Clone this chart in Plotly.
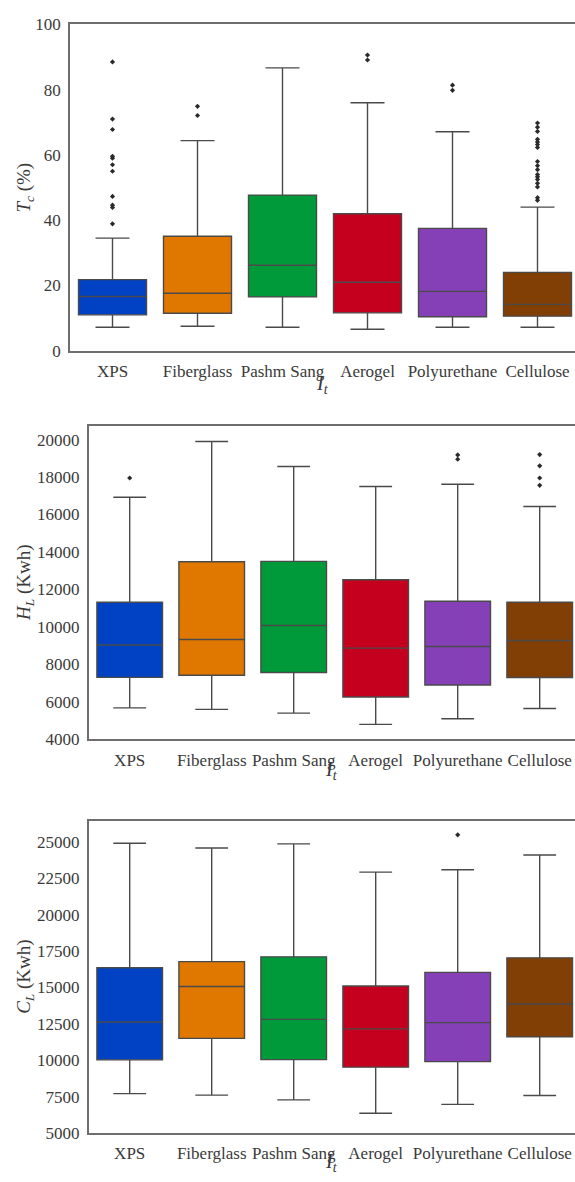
import plotly.graph_objects as go

categories = ["XPS", "Fiberglass", "Pashm Sang", "Aerogel", "Polyurethane", "Cellulose"]
colors = ["#0042C3", "#E07800", "#009A3A", "#C4001E", "#8540B8", "#823F05"]

# Panel 1: T_c (%)
tc_lower = [7.2, 7.5, 7.2, 6.6, 7.2, 7.2]
tc_q1 = [11.0, 11.5, 16.5, 11.6, 10.4, 10.6]
tc_median = [16.6, 17.6, 26.2, 21.0, 18.2, 14.2]
tc_q3 = [21.8, 35.1, 47.7, 42.0, 37.5, 24.0]
tc_upper = [34.5, 64.4, 86.7, 76.0, 67.1, 44.0]
tc_outliers = [
    [88.5, 71.0, 67.8, 59.6, 59.0, 57.0, 55.0, 47.3, 44.6, 43.9, 38.9],
    [74.9, 72.1],
    [],
    [90.6, 89.1],
    [81.4, 79.8],
    [69.8, 68.5, 67.2, 64.8, 64.0, 63.2, 62.3, 58.0, 56.7, 55.5, 54.0, 53.3,
     52.5, 51.3, 50.2, 46.9, 46.1],
]

# Panel 2: H_L (Kwh)
hl_lower = [5680, 5600, 5400, 4800, 5100, 5650]
hl_q1 = [7310, 7420, 7570, 6260, 6900, 7300]
hl_median = [9040, 9330, 10080, 8870, 8960, 9280]
hl_q3 = [11320, 13480, 13500, 12520, 11370, 11320]
hl_upper = [16920, 19900, 18560, 17500, 17620, 16430]
hl_outliers = [
    [17950],
    [],
    [],
    [],
    [19180, 18950],
    [19200, 18600, 17950, 17560],
]

# Panel 3: C_L (Kwh)
cl_lower = [7700, 7600, 7270, 6350, 6960, 7570]
cl_q1 = [10020, 11500, 10040, 9520, 9900, 11600]
cl_median = [12620, 15060, 12800, 12150, 12580, 13860]
cl_q3 = [16350, 16770, 17100, 15100, 16030, 17030]
cl_upper = [24900, 24580, 24860, 22920, 23080, 24100]
cl_outliers = [[], [], [], [], [25480], []]

W, H = 575, 1182
FONT = "Liberation Serif, Times New Roman, serif"
TICK_COLOR = "#3a3a3a"
LINE_COLOR = "#6e6e6e"

panels = [
    dict(lower=tc_lower, q1=tc_q1, med=tc_median, q3=tc_q3, upper=tc_upper, out=tc_outliers,
         left=70.0, top=15.7, bottom=347.3, yrange=[0, 100], dtick=20, xwidth=85.0,
         ytitle="<i>T<sub>c</sub></i> (%)", ytx=25, xty=382),
    dict(lower=hl_lower, q1=hl_q1, med=hl_median, q3=hl_q3, upper=hl_upper, out=hl_outliers,
         left=88.7, top=424.3, bottom=742.3, yrange=[4000, 20700], dtick=2000, xwidth=82.0,
         ytitle="<i>H<sub>L</sub></i> (Kwh)", ytx=25, xty=774),
    dict(lower=cl_lower, q1=cl_q1, med=cl_median, q3=cl_q3, upper=cl_upper, out=cl_outliers,
         left=88.7, top=825.0, bottom=1142.3, yrange=[5000, 26450], dtick=2500, xwidth=82.0,
         ytitle="<i>C<sub>L</sub></i> (Kwh)", ytx=25, xty=1172),
]

fig = go.Figure()
layout = dict(
    width=W, height=H, margin=dict(l=0, r=0, t=0, b=0),
    paper_bgcolor="white", plot_bgcolor="white", showlegend=False,
    boxmode="overlay", font=dict(family=FONT, size=17, color=TICK_COLOR),
    annotations=[],
)

for p_i, p in enumerate(panels):
    sfx = "" if p_i == 0 else str(p_i + 1)
    xa, ya = "x" + sfx, "y" + sfx
    for c_i, cat in enumerate(categories):
        fig.add_trace(go.Box(
            x=[cat], q1=[p["q1"][c_i]], median=[p["med"][c_i]], q3=[p["q3"][c_i]],
            lowerfence=[p["lower"][c_i]], upperfence=[p["upper"][c_i]],
            width=0.8, whiskerwidth=0.5, fillcolor=colors[c_i],
            line=dict(color="#4a4a4a", width=1.4), boxpoints=False,
            xaxis=xa, yaxis=ya, hoverinfo="skip",
        ))
        if p["out"][c_i]:
            fig.add_trace(go.Scatter(
                x=[cat] * len(p["out"][c_i]), y=p["out"][c_i], mode="markers",
                marker=dict(symbol="diamond", size=4, color="#2a2a2a"),
                xaxis=xa, yaxis=ya, hoverinfo="skip",
            ))
    plot_w = W - p["left"]
    xr_max = -0.5 + plot_w / p["xwidth"]
    xdom = [p["left"] / W, 1.0]
    ydom = [1 - p["bottom"] / H, 1 - p["top"] / H]
    layout["xaxis" + sfx] = dict(
        domain=xdom, anchor=ya, type="category", categoryorder="array",
        categoryarray=categories, range=[-0.5, xr_max],
        showline=True, linecolor=LINE_COLOR, linewidth=1.5, mirror=True,
        showgrid=False, zeroline=False, ticks="", ticklabelstandoff=4,
        tickfont=dict(family=FONT, size=17, color=TICK_COLOR),
    )
    layout["yaxis" + sfx] = dict(
        domain=ydom, anchor=xa, range=p["yrange"], dtick=p["dtick"], tick0=0,
        tickformat="d", showline=True, linecolor=LINE_COLOR, linewidth=1.5,
        mirror=False, showgrid=False, zeroline=False, ticks="", ticklabelstandoff=4,
        tickfont=dict(family=FONT, size=17, color=TICK_COLOR),
    )
    layout["annotations"].append(dict(
        text=p["ytitle"], x=p["ytx"] / W, y=1 - ((p["top"] + p["bottom"]) / 2) / H,
        xref="paper", yref="paper", showarrow=False, textangle=-90,
        xanchor="center", yanchor="middle",
        font=dict(family=FONT, size=19, color=TICK_COLOR),
    ))
    layout["annotations"].append(dict(
        text="<i>I<sub>t</sub></i>", x=((p["left"] + W) / 2) / W, y=1 - p["xty"] / H,
        xref="paper", yref="paper", showarrow=False,
        xanchor="center", yanchor="middle",
        font=dict(family=FONT, size=20, color=TICK_COLOR),
    ))

fig.update_layout(**layout)
fig.write_html("out.html")
